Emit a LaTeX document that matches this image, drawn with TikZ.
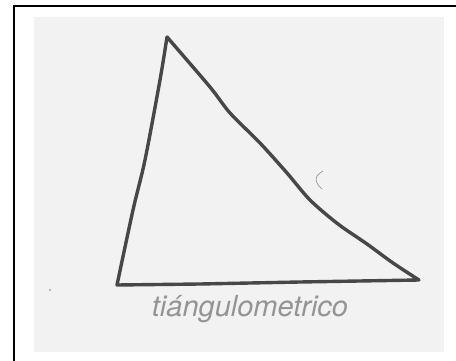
\documentclass[tikz,border=0pt]{standalone}
\usepackage{fontspec}
\setmainfont{TeX Gyre Heros}
\begin{document}
\begin{tikzpicture}[x=1pt,y=-1pt,
  pen/.style={draw=black!72,line width=3.4pt,line join=round,line cap=round},
  hand/.style={text=black!42,font=\itshape\fontsize{29}{30}\selectfont}]
\useasboundingbox (0,0) rectangle (456,361);
\fill[white] (0,0) rectangle (456,361);
\fill[black!5] (34,17) rectangle (444,352);
\draw[line width=2.5pt,black] (14,361) -- (14,6) -- (456,6);
\coordinate (A) at (167,37);
\coordinate (B) at (117,285);
\coordinate (C) at (419,280);
\draw[pen] plot[smooth,tension=0.5] coordinates {(A) (160,80) (145,160) (133,210) (B)}
  -- (200,284) -- (300,282) -- (C)
  plot[smooth,tension=0.5] coordinates {(C) (393,263) (367,244) (338,224) (310,200) (287,173) (260,143) (230,113) (210,87) (A)};
\draw[black!45,line width=0.6pt] (323,171) .. controls (314,176) and (314,182) .. (322,189);
\fill[black!50] (50,290) circle (0.8);
\node[hand] (t) at (250,309) {tiángulometrico};
\end{tikzpicture}
\end{document}
